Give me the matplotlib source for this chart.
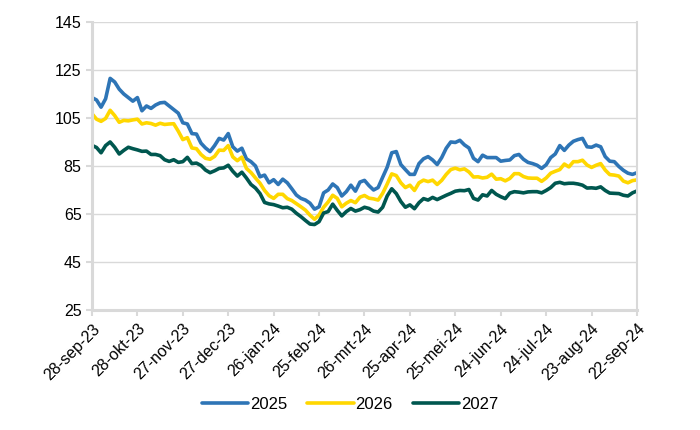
import numpy as np
import pandas as pd
import matplotlib
matplotlib.use("Agg")
import matplotlib.pyplot as plt

plt.rcParams['font.family'] = ['Liberation Sans', 'DejaVu Sans']

# data, one value every 3 days starting 28-sep-2023
startDate = pd.Timestamp('2023-09-28')
dayStep = 3

y2025 = [113.5, 112.5, 109.5, 113, 121.5, 120, 117, 115, 113.5, 112,
         113.5, 108, 110, 109, 110.4, 111.3, 111.5, 110, 108.5, 107,
         103, 102.5, 98.5, 98.3, 94.5, 92.5, 91, 93.5, 96.5, 95.8,
         98.5, 93, 91.2, 92.4, 88, 86.8, 85, 80.5, 81.2, 78,
         79.3, 77.3, 79.5, 78, 75.5, 72.9, 71.5, 70.8, 69.5, 67,
         68, 73.8, 75, 77.5, 76, 72.5, 74.3, 77, 74.5, 78.3,
         79, 76.8, 75, 76, 80.3, 84.5, 90.5, 91, 85.6, 83.5,
         81.5, 81.5, 86, 88, 88.9, 87.5, 85.6, 88.5, 92.4, 95,
         94.8, 95.7, 93.8, 92.5, 88.2, 86.8, 89.5, 88.5, 88.5, 88.5,
         87, 87.3, 87.5, 89.3, 89.8, 87.8, 86.5, 86, 85.3, 84,
         85.5, 88.5, 90, 93.5, 91.5, 93.7, 95.3, 96, 96.5, 93,
         92.8, 93.7, 93, 88.9, 87, 86.8, 84.8, 83.2, 82, 81.5,
         82.2]

y2026 = [106.8, 104.5, 103.6, 104.8, 108.2, 106, 103.2, 104, 103.8, 104.2,
         104.5, 102.5, 103, 102.7, 102, 102.8, 102.3, 102.5, 102.6, 99.5,
         96, 96.8, 92.5, 92.2, 89.8, 88.2, 87.8, 89, 91.6, 91.5,
         93.5, 88.8, 87.2, 88.7, 84, 82.3, 80, 77.8, 74.8, 72.6,
         71.5, 73.2, 73.2, 71.4, 70.6, 69.3, 68, 66.6, 64.5, 62.8,
         64.6, 67.8, 70, 72.8, 71.5, 68, 69.5, 70.6, 69.7, 72,
         72.7, 71.6, 71.3, 70.8, 73.6, 77.5, 81.7, 81, 78, 76,
         77, 74.8, 78, 79.1, 78.5, 79.1, 77.3, 79, 81.5, 83.5,
         84.1, 83.4, 83.8, 82.5, 80.4, 80.5, 80, 80.3, 81.6, 79.5,
         79.7, 78.8, 79.8, 81.8, 81.8, 80.6, 80, 79.9, 79.9, 78.6,
         80, 82, 82.8, 83.5, 85.8, 84.6, 86.8, 86.8, 87.4, 85.4,
         84.4, 85.3, 86, 83.3, 81.4, 81.2, 80.8, 78.7, 78, 78.9,
         79.2]

y2027 = [93.6, 92.7, 90.5, 93.5, 95, 92.8, 90, 91.5, 92.8, 92.2,
         91.7, 91.1, 91.2, 89.8, 89.8, 89.3, 87.6, 86.9, 87.6, 86.5,
         86.8, 88.6, 86, 86.2, 85.2, 83.3, 82.2, 83, 84, 84.2,
         85.3, 82.8, 80.8, 82.4, 80, 77.3, 75.8, 73.5, 69.8, 69.2,
         68.9, 68.3, 67.6, 67.8, 67, 65.3, 63.9, 62.3, 60.8, 60.6,
         61.8, 65.4, 66, 69.1, 66.5, 64.2, 66, 67.3, 66.2, 66.8,
         67.8, 67.3, 66.2, 65.8, 67.8, 72.5, 75.5, 73.5, 70.2, 67.8,
         68.8, 67.2, 69.7, 71.4, 70.8, 71.9, 71, 71.9, 72.8, 73.6,
         74.5, 74.8, 74.7, 75.2, 71.5, 70.8, 73, 72.5, 74.8, 73.2,
         72.2, 71.4, 73.7, 74.3, 74.1, 73.8, 74.2, 74.3, 74.3, 73.8,
         74.8, 76, 77.8, 78.2, 77.6, 77.8, 77.8, 77.5, 77, 75.8,
         75.9, 75.7, 76.3, 74.8, 73.7, 73.6, 73.5, 72.8, 72.5, 73.8,
         74.6]

seriesNames = ['2025', '2026', '2027']
seriesColors = ['#2E75B6', '#FFD700', '#00574F']

tickLabels = ['28-sep-23', '28-okt-23', '27-nov-23', '27-dec-23', '26-jan-24',
              '25-feb-24', '26-mrt-24', '25-apr-24', '25-mei-24', '24-jun-24',
              '24-jul-24', '23-aug-24', '22-sep-24']
yTicks = [25, 45, 65, 85, 105, 125, 145]

dates = startDate + pd.to_timedelta(np.arange(len(y2025)) * dayStep, unit='D')
tickDates = startDate + pd.to_timedelta(np.arange(len(tickLabels)) * 30, unit='D')

fig = plt.figure(figsize=(7, 4.3), dpi=100)
ax = fig.add_axes([0.1314, 0.2791, 0.7786, 0.6698])

for values, name, color in zip([y2025, y2026, y2027], seriesNames, seriesColors):
    ax.plot(dates, values, color=color, linewidth=2.6, label=name,
            solid_joinstyle='round', solid_capstyle='round')

gridColor = '#D9D9D9'
ax.set_ylim(25, 145)
ax.set_yticks(yTicks)
ax.set_xlim(tickDates[0], tickDates[-1])
ax.set_xticks(tickDates)
ax.set_xticklabels(tickLabels, rotation=45, ha='right', rotation_mode='anchor')
ax.yaxis.grid(True, color=gridColor, linewidth=1)
ax.set_axisbelow(True)

ax.spines['top'].set_visible(False)
ax.spines['left'].set_color(gridColor)
ax.spines['left'].set_linewidth(2.2)
ax.spines['bottom'].set_color(gridColor)
ax.spines['bottom'].set_linewidth(2.2)
ax.spines['right'].set_color(gridColor)
ax.spines['right'].set_linewidth(1.5)

ax.tick_params(axis='both', colors=gridColor, labelcolor='black', labelsize=11.5,
               length=4, width=1.5)
ax.tick_params(axis='x', pad=4)

fig.legend(loc='center', bbox_to_anchor=(0.5, 0.06), ncol=3, frameon=False,
           fontsize=12, handlelength=2.8, handletextpad=0.1, columnspacing=1.2)

fig.savefig('out.png', dpi=100)
